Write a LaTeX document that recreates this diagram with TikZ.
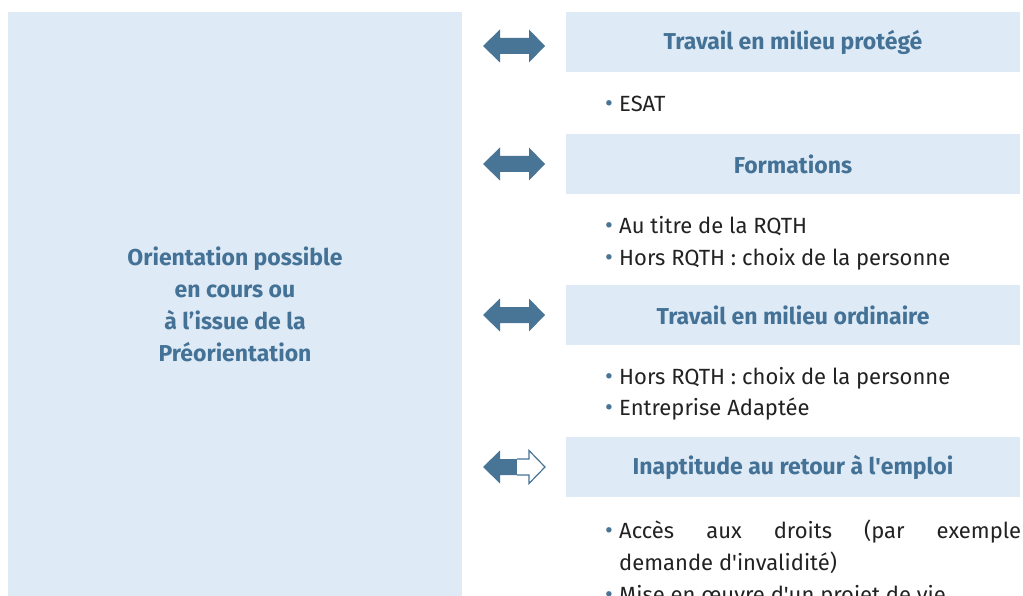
\documentclass[tikz,border=0pt]{standalone}
\usepackage{fontspec}
\setmainfont{Fira Sans}
\definecolor{boxfill}{RGB}{222,234,246}
\definecolor{hdr}{RGB}{68,114,150}
\definecolor{arr}{RGB}{72,116,150}
\definecolor{txt}{RGB}{34,34,34}
\newcommand{\bul}{\makebox[12pt][l]{\hspace{-2pt}\color{arr}\fontsize{24}{24}\selectfont\raisebox{0pt}{•}}}
\begin{document}
\begin{tikzpicture}[x=1pt,y=-1pt,
  leftbox/.style={fill=boxfill, draw=none, minimum width=454pt, minimum height=584pt, inner sep=0pt,
    align=center, text=hdr, font=\fontsize{23}{32}\selectfont\bfseries},
  hdrbox/.style={fill=boxfill, draw=none, minimum width=454pt, minimum height=60pt, inner sep=0pt,
    text=hdr, font=\fontsize{23}{26}\selectfont\bfseries},
  item/.style={anchor=base west, inner sep=0pt, text=txt, font=\fontsize{22}{32}\selectfont},
  dblarrow/.pic={\fill[arr] (-31,0) -- (-14,-16.5) -- (-14,-8) -- (15,-8) -- (15,-16.5) -- (31,0)
     -- (15,16.5) -- (15,8) -- (-14,8) -- (-14,16.5) -- cycle;},
  halfarrow/.pic={\fill[arr] (-31,0) -- (-14,-16.5) -- (-14,-8) -- (3,-8) -- (3,8) -- (-14,8) -- (-14,16.5) -- cycle;
     \draw[arr, fill=white, line width=1.2pt, line join=miter] (3,-8) -- (15,-8) -- (15,-16.5) -- (31,0) -- (15,16.5) -- (15,8) -- (3,8);}
]
\clip (0,0) rectangle (1023,596);
\fill[white] (0,0) rectangle (1023,596);

\node[leftbox] (orient) at (235,304) {Orientation possible\\en cours ou\\à l’issue de la\\Préorientation};

\node[hdrbox] (h1) at (793,42) {Travail en milieu protégé};
\node[hdrbox] (h2) at (793,164) {Formations};
\node[hdrbox] (h3) at (793,315) {Travail en milieu ordinaire};
\node[hdrbox] (h4) at (793,467) {Inaptitude au retour à l\textquotesingle emploi};

\coordinate (a1) at (514,46);
\coordinate (a2) at (514,164);
\coordinate (a3) at (514,315);
\coordinate (a4) at (514,467);
\pic at (a1) {dblarrow};
\pic at (a2) {dblarrow};
\pic at (a3) {dblarrow};
\pic at (a4) {halfarrow};

\node[item] (i1) at (607,111.5) {\bul ESAT};
\node[item] (i2) at (607,233.5) {\bul Au titre de la RQTH};
\node[item] (i3) at (607,265.5) {\bul Hors RQTH : choix de la personne};
\node[item] (i4) at (607,384.5) {\bul Hors RQTH : choix de la personne};
\node[item] (i5) at (607,415.5) {\bul Entreprise Adaptée};
\node[item] (i6) at (607,538.5) {\bul\makebox[402pt][s]{Accès aux droits (par exemple}};
\node[item] (i7) at (619,570.5) {demande d\textquotesingle invalidité)};
\node[item] (i8) at (607,602) {\bul Mise en œuvre d\textquotesingle un projet de vie};
\end{tikzpicture}
\end{document}
